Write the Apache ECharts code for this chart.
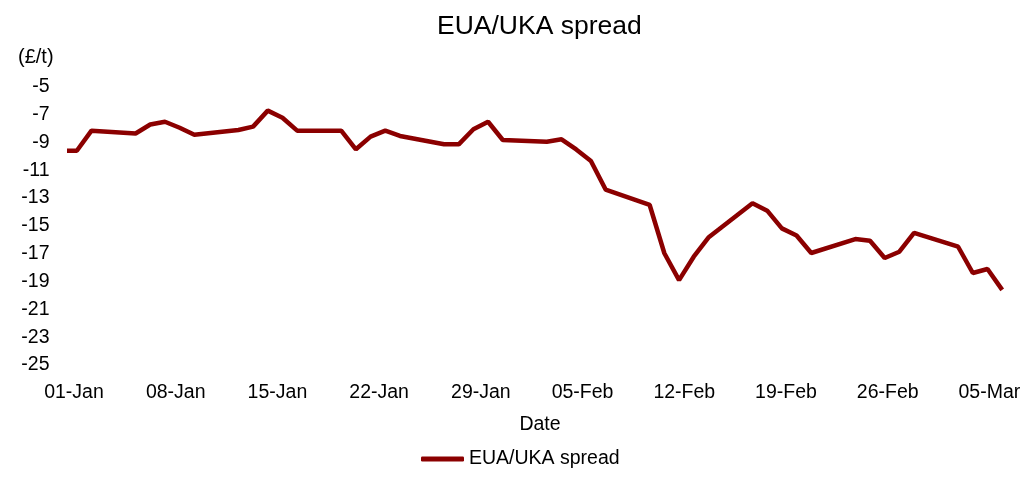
<!DOCTYPE html>
<html><head><meta charset="utf-8">
<script src="https://cdn.jsdelivr.net/npm/echarts@6/dist/echarts.min.js"></script>
<style>html,body{margin:0;padding:0;background:#fff}#c{width:1036px;height:490px}</style>
</head><body><div id="c"></div>
<script>
const dates = ['2025-01-01','2025-01-02','2025-01-03','2025-01-06','2025-01-07','2025-01-08','2025-01-09','2025-01-10',
  '2025-01-13','2025-01-14','2025-01-15','2025-01-16','2025-01-17','2025-01-20','2025-01-21','2025-01-22','2025-01-23','2025-01-24',
  '2025-01-27','2025-01-28','2025-01-29','2025-01-30','2025-01-31','2025-02-03','2025-02-04','2025-02-05','2025-02-06','2025-02-07',
  '2025-02-10','2025-02-11','2025-02-12','2025-02-13','2025-02-14','2025-02-17','2025-02-18','2025-02-19','2025-02-20','2025-02-21',
  '2025-02-24','2025-02-25','2025-02-26','2025-02-27','2025-02-28','2025-03-03','2025-03-04','2025-03-05','2025-03-06'];
const spread = [-9.6,-9.6,-8.16,-8.36,-7.72,-7.52,-7.95,-8.45,
  -8.11,-7.87,-6.72,-7.23,-8.16,-8.16,-9.50,-8.59,-8.16,-8.54,
  -9.14,-9.14,-8.06,-7.52,-8.83,-8.95,-8.78,-9.51,-10.34,-12.39,
  -13.50,-16.97,-18.9,-17.22,-15.84,-13.38,-13.91,-15.18,-15.69,-16.95,
  -15.95,-16.07,-17.31,-16.86,-15.51,-16.50,-18.39,-18.10,-19.6];
const tickDates = ['2025-01-01','2025-01-08','2025-01-15','2025-01-22','2025-01-29','2025-02-05','2025-02-12','2025-02-19','2025-02-26','2025-03-05'];
const tickLabels = ['01-Jan','08-Jan','15-Jan','22-Jan','29-Jan','05-Feb','12-Feb','19-Feb','26-Feb','05-Mar'];
const seriesName = 'EUA/UKA spread';

const base = Date.UTC(2025,0,1);
function dayNum(s){const p=s.split('-').map(Number);return (Date.UTC(p[0],p[1]-1,p[2])-base)/86400000;}
const points = dates.map((d,i)=>[dayNum(d), spread[i]]);
const tickDays = tickDates.map(dayNum);

const FONT = 'Liberation Sans, Arial, sans-serif';
const chart = echarts.init(document.getElementById('c'), null, {renderer:'canvas'});
chart.setOption({
  backgroundColor:'#ffffff',
  animation:false,
  title:[
    {text:'EUA/UKA spread', left:437, top:13, padding:0, textStyle:{fontFamily:FONT, fontSize:26.5, fontWeight:'normal', color:'#000'}},
    {text:'(£/t)', left:18, top:47, padding:0, textStyle:{fontFamily:FONT, fontSize:20, fontWeight:'normal', color:'#000'}}
  ],
  grid:{left:70, right:20, top:86.7, bottom:125, containLabel:false},
  xAxis:[
    {type:'value', min:0.536, max:64.94, axisLine:{show:false}, axisTick:{show:false}, axisLabel:{show:false}, splitLine:{show:false}},
    {type:'value', position:'bottom', min:-0.275, max:64.83,
      axisLine:{show:false}, axisTick:{show:false}, splitLine:{show:false},
      name:'Date', nameLocation:'middle', nameGap:50,
      nameTextStyle:{fontFamily:FONT, fontSize:19.5, color:'#000', padding:[0,6,0,0]},
      axisLabel:{show:true, customValues:tickDays, margin:18, fontFamily:FONT, fontSize:19.5, color:'#000',
        formatter:function(v){const i=tickDays.indexOf(Math.round(v));return i>=0?tickLabels[i]:'';}}
    }
  ],
  yAxis:{type:'value', min:-25, max:-5, interval:2,
    axisLine:{show:false}, axisTick:{show:false}, splitLine:{show:false},
    axisLabel:{margin:20.5, fontFamily:FONT, fontSize:19.5, color:'#000'}},
  legend:{data:[seriesName], left:421, top:449, padding:0, icon:'roundRect', itemWidth:43, itemHeight:5,
    itemStyle:{color:'#8b0000'},
    textStyle:{fontFamily:FONT, fontSize:19.5, color:'#000'}},
  series:[{name:seriesName, type:'line', xAxisIndex:0, data:points, symbol:'none',
    lineStyle:{color:'#8b0000', width:4.5}, itemStyle:{color:'#8b0000'}}]
});
</script></body></html>
